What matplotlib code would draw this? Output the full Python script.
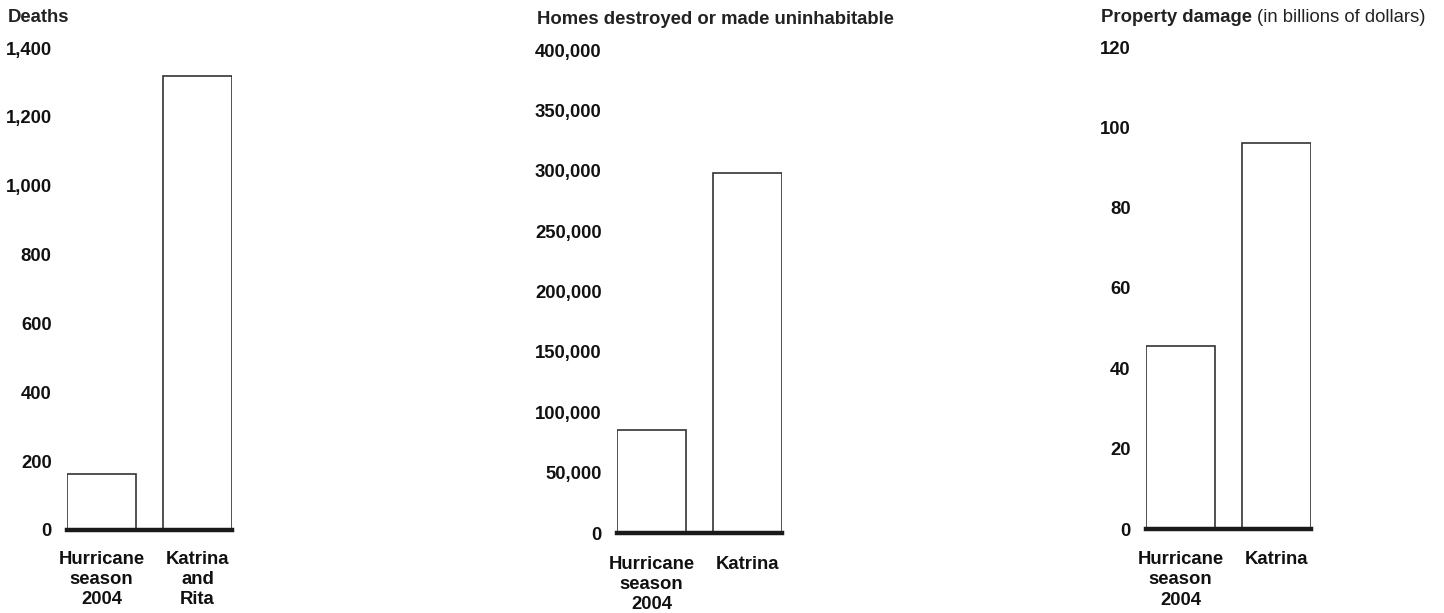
import matplotlib
matplotlib.use("Agg")
import matplotlib.pyplot as plt

plt.rcParams['font.family'] = ['Liberation Sans', 'DejaVu Sans']

# ---- data ----
deaths_labels = ["Hurricane\nseason\n2004", "Katrina\nand\nRita"]
deaths_values = [162, 1318]
deaths_ticks = [0, 200, 400, 600, 800, 1000, 1200, 1400]

homes_labels = ["Hurricane\nseason\n2004", "Katrina"]
homes_values = [85000, 298000]
homes_ticks = [0, 50000, 100000, 150000, 200000, 250000, 300000, 350000, 400000]

damage_labels = ["Hurricane\nseason\n2004", "Katrina"]
damage_values = [45.5, 96]
damage_ticks = [0, 20, 40, 60, 80, 100, 120]

W, H = 1444, 613
fig = plt.figure(figsize=(W / 100, H / 100), dpi=100)

FS = 13.3
TXT = '#111111'


def panel(left_px, right_px, base_px, top_px, labels, values, ticks, ymax, xpad):
    ax = fig.add_axes([left_px / W, (H - base_px) / H,
                       (right_px - left_px) / W, (base_px - top_px) / H])
    x = list(range(len(values)))
    ax.bar(x, values, width=0.72, facecolor='white', edgecolor='#333333',
           linewidth=1.2, zorder=2)
    ax.set_xlim(-0.36, len(values) - 1 + 0.36)
    ax.set_ylim(0, ymax)
    ax.axhline(0, color='#1a1a1a', linewidth=3.2, zorder=3, clip_on=False)
    for s in ax.spines.values():
        s.set_visible(False)
    ax.set_yticks(ticks)
    ax.set_yticklabels([f"{t:,}" for t in ticks], fontsize=FS,
                       fontweight='bold', color=TXT)
    ax.tick_params(axis='y', length=0, pad=11)
    ax.set_xticks(x)
    ax.set_xticklabels(labels, fontsize=FS, fontweight='bold', color=TXT,
                       linespacing=1.25)
    ax.tick_params(axis='x', length=0, pad=xpad)
    ax.patch.set_visible(False)
    return ax


panel(67, 232, 530, 48, deaths_labels, deaths_values, deaths_ticks, 1400, 15)
panel(617, 782, 533, 50, homes_labels, homes_values, homes_ticks, 400000, 16.5)
panel(1146, 1311, 529, 47, damage_labels, damage_values, damage_ticks, 120, 16)

# titles
fig.text(8 / W, 1 - 18 / H, "Deaths", fontsize=FS, fontweight='bold',
         color='#222222', ha='left', va='center')
fig.text(537 / W, 1 - 20 / H, "Homes destroyed or made uninhabitable",
         fontsize=FS, fontweight='bold', color='#222222', ha='left', va='center')
t = fig.text(1101 / W, 1 - 18 / H, "Property damage", fontsize=FS,
             fontweight='bold', color='#222222', ha='left', va='center')
fig.canvas.draw()
bb = t.get_window_extent(renderer=fig.canvas.get_renderer())
fig.text((bb.x1 + 5) / W, 1 - 18 / H, "(in billions of dollars)", fontsize=FS,
         color='#222222', ha='left', va='center')

fig.savefig("out.png", dpi=100, facecolor='white')
